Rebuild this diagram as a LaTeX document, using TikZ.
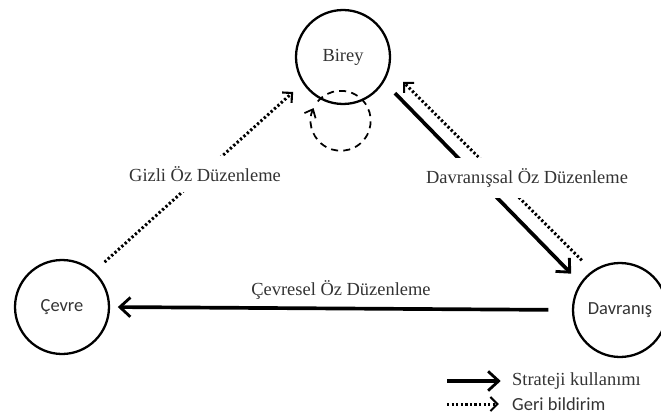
\documentclass[tikz,border=0pt]{standalone}
\usepackage{fontspec}
\setmainfont{Liberation Serif}
\newfontfamily\calibri{Carlito}
\usetikzlibrary{arrows.meta}

\begin{document}
\begin{tikzpicture}[x=0.02cm, y=-0.02cm,
  font=\fontsize{10.5}{12}\selectfont,
  agent/.style={draw, circle, line width=1.3pt, minimum size=1.88cm, inner sep=0pt, outer sep=0pt, text=black!80},
  sans/.style={font=\calibri\fontsize{10.5}{12}\selectfont},
  strat/.style={line width=2.1pt, -{Straight Barb[length=6pt, width=11pt, line width=1.6pt]}},
  feedback/.style={line width=1.7pt, dash pattern=on 1.3pt off 1.3pt, -{Straight Barb[length=4pt, width=8pt, line width=1.2pt]}},
  lbl/.style={fill=white, inner sep=6pt, text=black!80}]
  \useasboundingbox (0,0) rectangle (661,415);

  % the three corners
  \node[agent] (birey) at (343,57) {Birey};
  \node[agent, sans] (cevre) at (62,307) {Çevre};
  \node[agent, sans] (davranis) at (620,310) {Davranış};

  % self loop under Birey
  \node[circle, minimum size=1.2cm, inner sep=0pt] (loop) at (341,121) {};
  \draw[line width=1pt, dash pattern=on 4pt off 3pt, -{Straight Barb[length=4pt, width=7pt]}]
    (loop.140) arc[start angle=140, end angle=-205, radius=0.6cm];

  % connectors
  \draw[feedback, shorten <=8.5pt, shorten >=8pt] (cevre.48) -- (birey.-147);
  \draw[strat, shorten <=9.5pt, shorten >=8pt] (birey.-31) -- (davranis.146);
  \draw[feedback, shorten <=9pt, shorten >=11.5pt] (davranis.125) -- (birey.-13);
  \draw[strat, shorten <=14pt, shorten >=5pt] (davranis.180) -- (cevre.0);

  % labels
  \node[lbl] (gizli) at (205,174) {Gizli Öz Düzenleme};
  \node[lbl] (davlbl) at (527,178) {Davranışsal Öz Düzenleme};
  \node[text=black!80] (cevlbl) at (341,290) {Çevresel Öz Düzenleme};

  % legend
  \node[anchor=west, text=black!80] (strateji) at (506,381) {Strateji kullanımı};
  \node[anchor=west, sans, text=black!80] (geri) at (506,404) {Geri bildirim};
  \coordinate (s0) at (447,381);
  \coordinate (g0) at (447,404);
  \draw[strat, shorten >=3pt] (s0) -- (strateji);
  \draw[feedback, shorten >=4pt] (g0) -- (geri);
\end{tikzpicture}
\end{document}
